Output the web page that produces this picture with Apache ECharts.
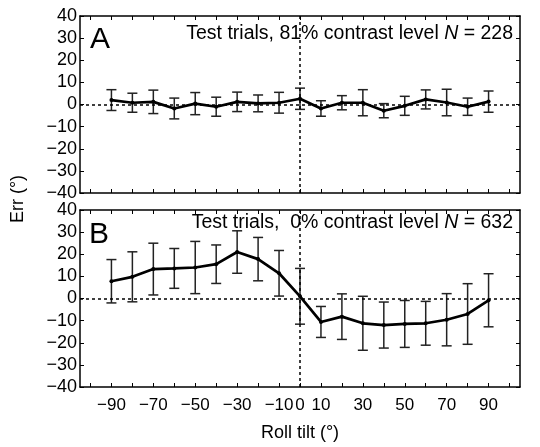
<!DOCTYPE html>
<html>
<head>
<meta charset="utf-8">
<script src="https://cdn.jsdelivr.net/npm/echarts@6/dist/echarts.min.js"></script>
<style>
  html, body { margin: 0; padding: 0; background: #fff; }
  #chart { width: 540px; height: 447px; }
</style>
</head>
<body>
<div id="chart"></div>
<script>
  // roll tilt bins
  var tilts = [-90, -80, -70, -60, -50, -40, -30, -20, -10, 0, 10, 20, 30, 40, 50, 60, 70, 80, 90];
  // panel A: 81% contrast
  var errA = [2.0, 0.8, 1.2, -1.8, 0.4, -1.0, 1.2, 0.5, 0.8, 2.6, -1.8, 0.8, 0.8, -2.8, -0.6, 2.3, 0.9, -1.0, 1.3];
  var barA = [4.7, 4.3, 5.3, 4.7, 5.0, 4.3, 4.4, 3.8, 4.7, 4.8, 3.5, 3.2, 5.9, 3.2, 4.3, 4.3, 6.0, 3.9, 4.8];
  // panel B: 0% contrast
  var errB = [7.8, 9.8, 13.3, 13.6, 14.0, 15.5, 21.0, 17.8, 11.4, 1.0, -10.6, -8.2, -11.2, -12.0, -11.5, -11.2, -9.6, -7.0, -0.8];
  var barB = [9.8, 11.3, 11.7, 9.0, 11.8, 8.7, 9.6, 9.8, 10.3, 12.6, 7.0, 10.3, 12.2, 10.4, 10.6, 9.9, 11.8, 13.7, 12.0];

  var xTicks = [-100, -90, -80, -70, -60, -50, -40, -30, -20, -10, 0, 10, 20, 30, 40, 50, 60, 70, 80, 90, 100];
  var xLabels = [-90, -70, -50, -30, -10, 0, 10, 30, 50, 70, 90];

  var font = 'Liberation Sans, Arial, Helvetica, sans-serif';
  var minus = function (v) { return String(v).replace('-', '\u2212'); };

  var chart = echarts.init(document.getElementById('chart'));

  function xAx(grid, pos, labels) {
    return {
      type: 'value', gridIndex: grid, position: pos,
      min: -105, max: 105,
      axisLine: { show: true, onZero: false, lineStyle: { color: '#000', width: 1.5 } },
      axisTick: { show: true, inside: true, length: 4, customValues: xTicks, lineStyle: { color: '#000', width: 1 } },
      axisLabel: { show: labels, customValues: xLabels, formatter: minus, color: '#000', fontSize: 17, fontFamily: font, margin: 10 },
      splitLine: { show: false },
      name: labels ? 'Roll tilt (\u00b0)' : '',
      nameLocation: 'middle', nameGap: 37,
      nameTextStyle: { color: '#000', fontSize: 18, fontFamily: font }
    };
  }
  function yAx(grid, pos, labels) {
    return {
      type: 'value', gridIndex: grid, position: pos,
      min: -40, max: 40, interval: 10,
      axisLine: { show: true, onZero: false, lineStyle: { color: '#000', width: 1.5 } },
      axisTick: { show: true, inside: true, length: 4, lineStyle: { color: '#000', width: 1 } },
      axisLabel: { show: labels, formatter: minus, color: '#000', fontSize: 18, fontFamily: font, margin: 3 },
      splitLine: { show: false }
    };
  }

  function errorBars(grid, mean, half) {
    return {
      type: 'custom', xAxisIndex: grid * 2, yAxisIndex: grid * 2,
      data: tilts.map(function (t, i) { return [t, mean[i] - half[i], mean[i] + half[i]]; }),
      renderItem: function (params, api) {
        var top = api.coord([api.value(0), api.value(2)]);
        var bot = api.coord([api.value(0), api.value(1)]);
        var s = { stroke: '#222', lineWidth: 1.5 };
        return {
          type: 'group',
          children: [
            { type: 'line', shape: { x1: top[0], y1: top[1], x2: bot[0], y2: bot[1] }, style: s },
            { type: 'line', shape: { x1: top[0] - 5, y1: top[1], x2: top[0] + 5, y2: top[1] }, style: s },
            { type: 'line', shape: { x1: bot[0] - 5, y1: bot[1], x2: bot[0] + 5, y2: bot[1] }, style: s }
          ]
        };
      },
      z: 2
    };
  }

  function meanLine(grid, mean) {
    return {
      type: 'line', xAxisIndex: grid * 2, yAxisIndex: grid * 2,
      data: tilts.map(function (t, i) { return [t, mean[i]]; }),
      symbol: 'circle', symbolSize: 4, showSymbol: true,
      lineStyle: { color: '#000', width: 2.7 },
      itemStyle: { color: '#000' },
      z: 3,
      markLine: {
        silent: true, symbol: 'none', label: { show: false },
        lineStyle: { color: '#000', type: [3, 3], width: 1.5 },
        data: [{ yAxis: 0 }, { xAxis: 0 }]
      }
    };
  }

  function panelTitle(text, top) {
    return {
      text: text, right: 27, top: top, padding: 0,
      textStyle: {
        fontWeight: 'normal',
        rich: {
          a: { fontSize: 19.5, fontFamily: font, color: '#000', fontWeight: 'normal' },
          n: { fontSize: 19.5, fontFamily: font, color: '#000', fontWeight: 'normal', fontStyle: 'italic' }
        }
      }
    };
  }

  chart.setOption({
    animation: false,
    title: [
      { text: 'A', left: 90, top: 25, padding: 0, textStyle: { fontSize: 30, fontWeight: 'normal', fontFamily: font, color: '#000' } },
      { text: 'B', left: 89, top: 220, padding: 0, textStyle: { fontSize: 30, fontWeight: 'normal', fontFamily: font, color: '#000' } },
      panelTitle('{a|Test trials, 81% contrast level }{n|N}{a| = 228}', 24),
      panelTitle('{a|Test trials,  0% contrast level }{n|N}{a| = 632}', 213)
    ],
    graphic: [{
      type: 'text', x: 18, y: 199, rotation: Math.PI / 2,
      style: { text: 'Err (\u00b0)', fontSize: 18, fontFamily: font, fill: '#000', textAlign: 'center', textVerticalAlign: 'middle' }
    }],
    grid: [
      { left: 80, top: 16, width: 440, height: 177 },
      { left: 80, top: 210, width: 440, height: 177 }
    ],
    xAxis: [xAx(0, 'bottom', false), xAx(0, 'top', false), xAx(1, 'bottom', true), xAx(1, 'top', false)],
    yAxis: [yAx(0, 'left', true), yAx(0, 'right', false), yAx(1, 'left', true), yAx(1, 'right', false)],
    series: [
      errorBars(0, errA, barA), meanLine(0, errA),
      errorBars(1, errB, barB), meanLine(1, errB)
    ]
  });
</script>
</body>
</html>
